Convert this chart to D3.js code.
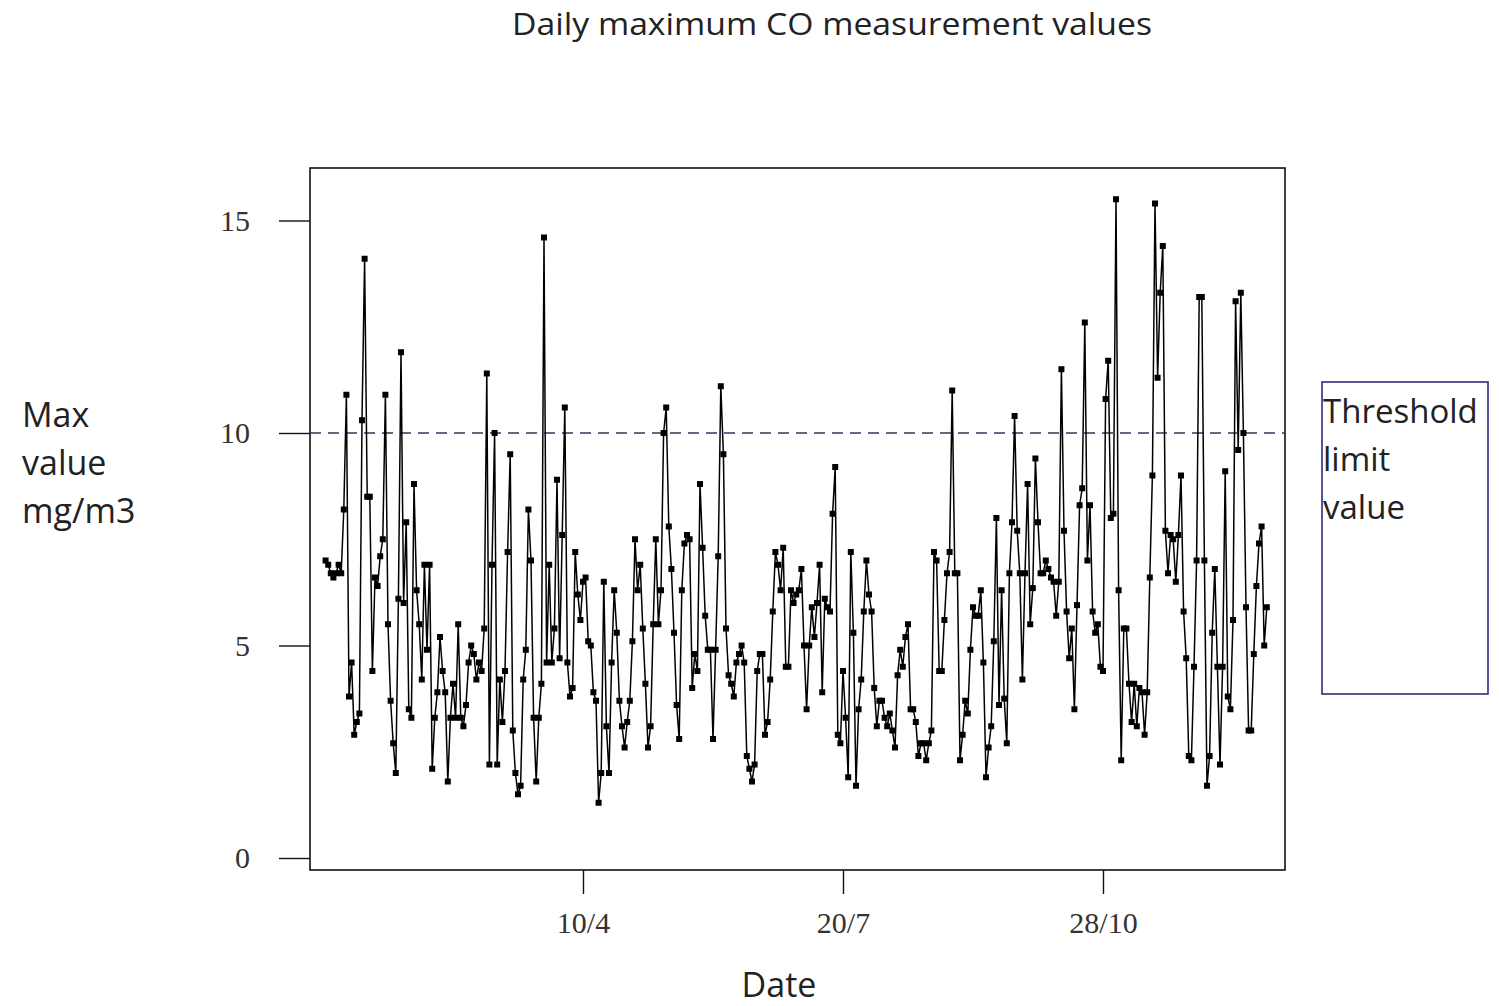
<!DOCTYPE html>
<html>
<head>
<meta charset="utf-8">
<script src="https://cdn.jsdelivr.net/npm/d3@7"></script>
<style>
  body { margin: 0; background: #fff; }
  svg { display: block; }
</style>
</head>
<body>
<svg id="chart" width="1499" height="1006"></svg>
<script>
'use strict';

// daily maximum CO values, one per day starting on 1 January
const maxCO = [
  7.0, 6.9, 6.7, 6.6, 6.7, 6.9, 6.7, 8.2, 10.9, 3.8, 4.6, 2.9, 3.2, 3.4, 10.3, 14.1, 8.5, 8.5, 4.4, 6.6,
  6.4, 7.1, 7.5, 10.9, 5.5, 3.7, 2.7, 2.0, 6.1, 11.9, 6.0, 7.9, 3.5, 3.3, 8.8, 6.3, 5.5, 4.2, 6.9, 4.9, 6.9,
  2.1, 3.3, 3.9, 5.2, 4.4, 3.9, 1.8, 3.3, 4.1, 3.3, 5.5, 3.3, 3.1, 3.6, 4.6, 5.0, 4.8, 4.2, 4.6, 4.4,
  5.4, 11.4, 2.2, 6.9, 10.0, 2.2, 4.2, 3.2, 4.4, 7.2, 9.5, 3.0, 2.0, 1.5, 1.7, 4.2, 4.9, 8.2, 7.0, 3.3,
  1.8, 3.3, 4.1, 14.6,
  4.6, 6.9, 4.6, 5.4, 8.9, 4.7, 7.6, 10.6, 4.6, 3.8, 4.0, 7.2, 6.2, 5.6, 6.5, 6.6, 5.1, 5.0, 3.9, 3.7,
  1.3, 2.0, 6.5, 3.1, 2.0, 4.6, 6.3, 5.3, 3.7, 3.1, 2.6, 3.2, 3.7, 5.1, 7.5, 6.3, 6.9, 5.4, 4.1, 2.6,
  3.1, 5.5, 7.5, 5.5, 6.3, 10.0, 10.6, 7.8,
  6.8, 5.3, 3.6, 2.8, 6.3, 7.4, 7.6, 7.5, 4.0, 4.8, 4.4, 8.8, 7.3, 5.7, 4.9, 4.9, 2.8, 4.9, 7.1, 11.1,
  9.5, 5.4, 4.3, 4.1, 3.8, 4.6, 4.8, 5.0, 4.6, 2.4, 2.1, 1.8, 2.2, 4.4, 4.8, 4.8, 2.9, 3.2, 4.2, 5.8,
  7.2, 6.9, 6.3, 7.3, 4.5, 4.5, 6.3,
  6.0, 6.2, 6.3, 6.8, 5.0, 3.5, 5.0, 5.9, 5.2, 6.0, 6.9, 3.9, 6.1, 5.9, 5.8, 8.1, 9.2, 2.9, 2.7, 4.4,
  3.3, 1.9, 7.2, 5.3, 1.7, 3.5, 4.2, 5.8, 7.0, 6.2, 5.8, 4.0, 3.1, 3.7, 3.7, 3.3, 3.1, 3.4, 3.0, 2.6,
  4.3, 4.9, 4.5, 5.2,
  5.5, 3.5, 3.5, 3.2, 2.4, 2.7, 2.7, 2.3, 2.7, 3.0, 7.2, 7.0, 4.4, 4.4, 5.6, 6.7, 7.2, 11.0, 6.7, 6.7,
  2.3, 2.9, 3.7, 3.4, 4.9, 5.9, 5.7, 5.7, 6.3, 4.6, 1.9, 2.6, 3.1, 5.1, 8.0, 3.6, 6.3, 3.75, 2.7, 6.7,
  7.9, 10.4, 7.7, 6.7, 4.2, 6.7, 8.8,
  5.5, 6.35, 9.4, 7.9, 6.7, 6.7, 7.0, 6.8, 6.6, 6.5, 5.7, 6.5, 11.5, 7.7, 5.8, 4.7, 5.4, 3.5, 5.95, 8.3,
  8.7, 12.6, 7.0, 8.3, 5.8, 5.3, 5.5, 4.5, 4.4, 10.8, 11.7, 8.0, 8.1, 15.5, 6.3, 2.3, 5.4, 5.4, 4.1, 3.2,
  4.1, 3.1, 4.0, 3.9, 2.9, 3.9,
  6.6, 9.0, 15.4, 11.3, 13.3, 14.4, 7.7, 6.7, 7.6, 7.5, 6.5, 7.6, 9.0, 5.8, 4.7, 2.4, 2.3, 4.5, 7.0, 13.2,
  13.2, 7.0, 1.7, 2.4, 5.3, 6.8, 4.5, 2.2, 4.5, 9.1, 3.8, 3.5, 5.6, 13.1, 9.6, 13.3, 10.0, 5.9, 3.0, 3.0,
  4.8, 6.4, 7.4, 7.8, 5.0, 5.9
];

const threshold = 10;
const yTicks = [0, 5, 10, 15];
const xTickDays = [100, 200, 300];
const xTickLabels = ['10/4', '20/7', '28/10'];
const titleText = 'Daily maximum CO measurement values';
const xLabelText = 'Date';
const yLabelLines = ['Max', 'value', 'mg/m3'];
const legendLines = ['Threshold', 'limit', 'value'];

const sansFont = '"Open Sans", "Noto Sans", sans-serif';
const serifFont = '"Liberation Serif", "DejaVu Serif", serif';

const svg = d3.select('#chart');

// plot frame
const box = { left: 310, right: 1285, top: 168, bottom: 870 };

const x = d3.scaleLinear().domain([-5, 370]).range([box.left, box.right]);
const y = d3.scaleLinear().domain([-0.282, 16.235]).range([box.bottom, box.top]);

const data = maxCO.map((v, i) => ({ day: i + 1, value: v }));

// y axis (ticks outside the frame, serif labels like base R)
const yAxis = svg.append('g')
  .attr('transform', `translate(${box.left},0)`)
  .call(d3.axisLeft(y).tickValues(yTicks).tickSize(31).tickPadding(29));
yAxis.select('.domain').remove();
yAxis.selectAll('line').attr('stroke', '#111').attr('stroke-width', 1.4);
yAxis.selectAll('text')
  .attr('font-family', serifFont)
  .attr('font-size', 30)
  .attr('fill', '#333');

// x axis
const xAxis = svg.append('g')
  .attr('transform', `translate(0,${box.bottom})`)
  .call(d3.axisBottom(x).tickValues(xTickDays)
    .tickFormat((d, i) => xTickLabels[i]).tickSize(24).tickPadding(18));
xAxis.select('.domain').remove();
xAxis.selectAll('line').attr('stroke', '#111').attr('stroke-width', 1.4);
xAxis.selectAll('text')
  .attr('font-family', serifFont)
  .attr('font-size', 30)
  .attr('fill', '#333');

// frame
svg.append('rect')
  .attr('x', box.left).attr('y', box.top)
  .attr('width', box.right - box.left).attr('height', box.bottom - box.top)
  .attr('fill', 'none').attr('stroke', '#111').attr('stroke-width', 1.6);

// threshold line
svg.append('line')
  .attr('x1', box.left).attr('x2', box.right)
  .attr('y1', y(threshold)).attr('y2', y(threshold))
  .attr('stroke', '#34345a').attr('stroke-width', 1.6)
  .attr('stroke-dasharray', '11,7');

// series line + markers
const line = d3.line().x(d => x(d.day)).y(d => y(d.value));
svg.append('path')
  .datum(data)
  .attr('d', line)
  .attr('fill', 'none')
  .attr('stroke', '#000')
  .attr('stroke-width', 1.5);

svg.append('g')
  .selectAll('rect')
  .data(data)
  .join('rect')
  .attr('x', d => x(d.day) - 3)
  .attr('y', d => y(d.value) - 3)
  .attr('width', 6)
  .attr('height', 6)
  .attr('fill', '#000');

// title (stretched a little to the reference's width)
svg.append('text')
  .attr('x', 832).attr('y', 35)
  .attr('text-anchor', 'middle')
  .attr('font-family', sansFont)
  .attr('font-size', 31)
  .attr('textLength', 640)
  .attr('lengthAdjust', 'spacingAndGlyphs')
  .attr('fill', '#222')
  .text(titleText);

// x label
svg.append('text')
  .attr('x', 779).attr('y', 997)
  .attr('text-anchor', 'middle')
  .attr('font-family', sansFont)
  .attr('font-size', 34)
  .attr('fill', '#222')
  .text(xLabelText);

// y label, three lines on the left
svg.append('g')
  .selectAll('text')
  .data(yLabelLines)
  .join('text')
  .attr('x', 22)
  .attr('y', (d, i) => 427 + i * 48)
  .attr('font-family', sansFont)
  .attr('font-size', 34)
  .attr('fill', '#222')
  .text(d => d);

// threshold legend box
svg.append('rect')
  .attr('x', 1322).attr('y', 382)
  .attr('width', 166).attr('height', 312)
  .attr('fill', 'none')
  .attr('stroke', '#2e2e7e')
  .attr('stroke-width', 1.6);

svg.append('g')
  .selectAll('text')
  .data(legendLines)
  .join('text')
  .attr('x', 1323)
  .attr('y', (d, i) => 423 + i * 48)
  .attr('font-family', sansFont)
  .attr('font-size', 33)
  .attr('fill', '#222')
  .text(d => d);
</script>
</body>
</html>
